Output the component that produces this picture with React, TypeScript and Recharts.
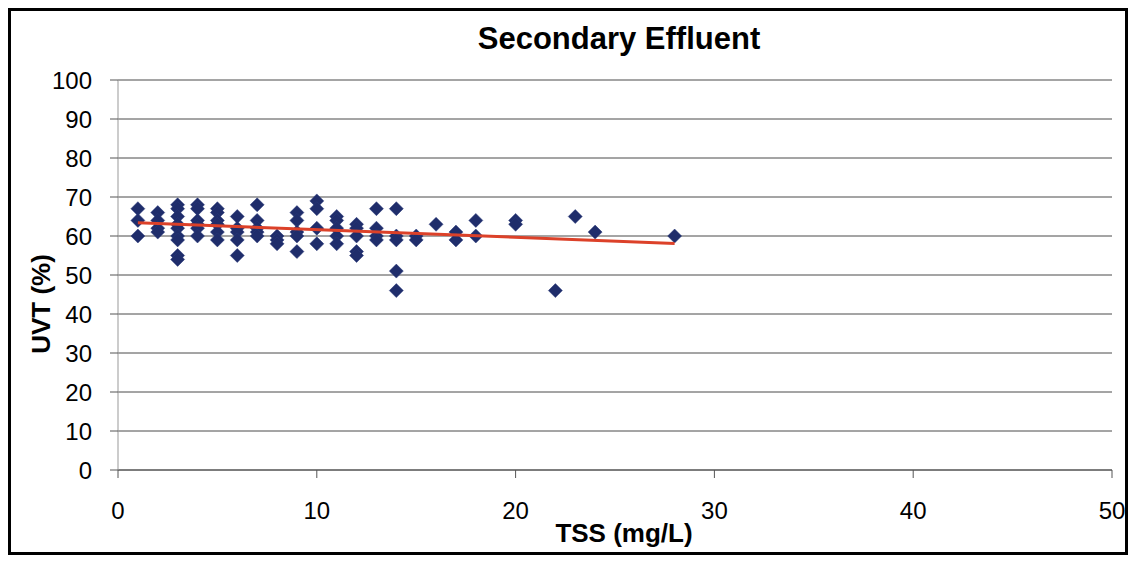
import React from 'react';
import { ScatterChart, Scatter, XAxis, YAxis, CartesianGrid } from 'recharts';

// TSS (mg/L) and UVT (%) pairs
const tss = [
  1, 1, 1,
  2, 2, 2, 2,
  3, 3, 3, 3, 3, 3, 3, 3, 3,
  4, 4, 4, 4, 4, 4,
  5, 5, 5, 5, 5, 5,
  6, 6, 6, 6, 6,
  7, 7, 7, 7, 7,
  8, 8, 8,
  9, 9, 9, 9, 9,
  10, 10, 10, 10,
  11, 11, 11, 11, 11,
  12, 12, 12, 12, 12,
  13, 13, 13, 13,
  14, 14, 14, 14, 14,
  15, 15,
  16,
  17, 17,
  18, 18,
  20, 20,
  22, 23, 24, 28,
];
const uvt = [
  67, 64, 60,
  66, 64, 62, 61,
  68, 67, 65, 63, 62, 60, 59, 55, 54,
  68, 67, 64, 63, 62, 60,
  67, 66, 64, 63, 61, 59,
  65, 62, 61, 59, 55,
  68, 64, 62, 61, 60,
  60, 59, 58,
  66, 64, 61, 60, 56,
  69, 67, 62, 58,
  65, 64, 62, 60, 58,
  63, 62, 60, 56, 55,
  67, 62, 60, 59,
  67, 60, 59, 51, 46,
  60, 59,
  63,
  61, 59,
  64, 60,
  64, 63,
  46, 65, 61, 60,
];

// Linear trend line endpoints
const trendX = [1, 28];
const trendY = [63.4, 58.1];

const xTicks = [0, 10, 20, 30, 40, 50];
const yTicks = [0, 10, 20, 30, 40, 50, 60, 70, 80, 90, 100];

const title = 'Secondary Effluent';
const xLabel = 'TSS (mg/L)';
const yLabel = 'UVT (%)';

const points = tss.map((x, i) => ({ x, y: uvt[i] }));
const trend = trendX.map((x, i) => ({ x, y: trendY[i] }));

const FONT = '"Liberation Sans", Arial, sans-serif';

const Diamond = (props: any) => {
  const { cx, cy } = props;
  if (cx == null || cy == null) return <g />;
  const r = 7;
  return (
    <polygon
      points={`${cx},${cy - r} ${cx + r},${cy} ${cx},${cy + r} ${cx - r},${cy}`}
      fill="#1F2D6B"
      stroke="#2B3B7A"
      strokeWidth={0.5}
    />
  );
};

const Empty = () => <g />;

const YLabel = (props: any) => {
  const vb = props.viewBox || { x: 0, y: 69, width: 107, height: 390 };
  const x = vb.x + 39;
  const y = vb.y + vb.height / 2 + 29;
  return (
    <text
      x={x}
      y={y}
      transform={`rotate(-90 ${x} ${y})`}
      textAnchor="middle"
      fontFamily={FONT}
      fontWeight="bold"
      fontSize={26}
      fill="#000"
    >
      {yLabel}
    </text>
  );
};

const XLabel = (props: any) => {
  const vb = props.viewBox || { x: 107, y: 459, width: 994, height: 82 };
  const x = vb.x + vb.width / 2 + 9;
  const y = vb.y + 72;
  return (
    <text x={x} y={y} textAnchor="middle" fontFamily={FONT} fontWeight="bold" fontSize={26} fill="#000">
      {xLabel}
    </text>
  );
};

export default function App() {
  return (
    <div
      style={{
        position: 'relative',
        width: 1114,
        height: 541,
        border: '3px solid #000',
        background: '#fff',
        fontFamily: FONT,
      }}
    >
      <div
        style={{
          position: 'absolute',
          left: 0,
          width: 1216,
          top: 12,
          textAlign: 'center',
          fontSize: 31,
          lineHeight: '31px',
          fontWeight: 'bold',
          fontFamily: FONT,
          color: '#000',
          zIndex: 2,
        }}
      >
        {title}
      </div>
      <ScatterChart width={1114} height={541} margin={{ top: 69, right: 13, left: 0, bottom: 0 }}>
        <CartesianGrid horizontal vertical={false} stroke="#4a4a4a" strokeWidth={1} />
        <XAxis
          type="number"
          dataKey="x"
          domain={[0, 50]}
          ticks={xTicks}
          interval={0}
          height={82}
          tickSize={8}
          tickMargin={24}
          axisLine={{ stroke: '#555' }}
          tickLine={{ stroke: '#555' }}
          tick={{ fontSize: 24, fill: '#000', fontFamily: FONT }}
          label={<XLabel />}
        />
        <YAxis
          type="number"
          dataKey="y"
          domain={[0, 100]}
          ticks={yTicks}
          interval={0}
          width={107}
          tickSize={8}
          tickMargin={18}
          axisLine={{ stroke: '#999' }}
          tickLine={{ stroke: '#555' }}
          tick={{ fontSize: 24, fill: '#000', fontFamily: FONT }}
          label={<YLabel />}
        />
        <Scatter data={points} shape={<Diamond />} isAnimationActive={false} />
        <Scatter
          data={trend}
          line={{ stroke: '#DC4129', strokeWidth: 3 }}
          shape={<Empty />}
          isAnimationActive={false}
        />
      </ScatterChart>
    </div>
  );
}
